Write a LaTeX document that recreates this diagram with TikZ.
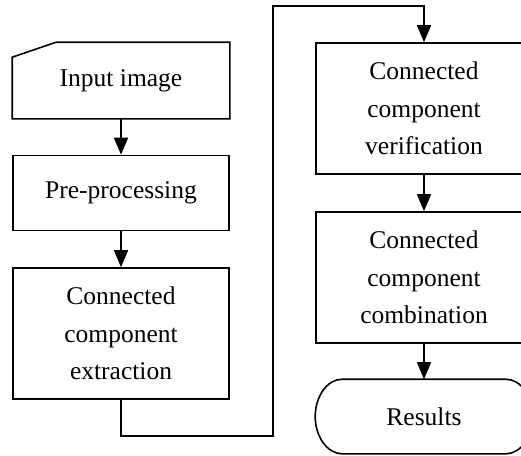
\documentclass[tikz,border=0pt]{standalone}
\usepackage{fontspec}
\setmainfont{Liberation Serif}
\usetikzlibrary{arrows.meta,calc}
\begin{document}
\begin{tikzpicture}[x=1pt,y=-1pt,
  line width=1.6pt,
  every node/.style={font=\fontsize{25.5}{37.5}\selectfont, align=center, inner sep=0pt},
  procbox/.style={draw, rectangle, minimum width=216, minimum height=75},
  tallbox/.style={procbox, minimum height=131},
  flow/.style={-{Triangle[length=17pt,width=14pt]}}
]
\useasboundingbox (0,0) rectangle (521,455);
\clip (0,0) rectangle (521,455);

% input with a clipped top-left corner
\node[minimum width=216, minimum height=75] (in) at (121,80.5) {Input image};
\draw ($(in.north west)+(0,15)$) -- ($(in.north west)+(44,0)$) -- (in.north east)
  -- (in.south east) -- (in.south west) -- cycle;

\node[procbox] (pre) at (121,193) {Pre-processing};
\node[tallbox] (ext) at (121,333.5) {Connected\\component\\extraction};
\node[tallbox] (ver) at (424,108.5) {Connected\\component\\verification};
\node[tallbox] (com) at (424,277.5) {Connected\\component\\combination};

% terminal with elliptical ends
\node[minimum width=216, minimum height=73] (res) at (424,416.5) {Results};
\draw ($(res.north west)+(27,0)$) -- ($(res.north east)+(-27,0)$)
  .. controls +(15,0) and +(0,-20) .. (res.east)
  .. controls +(0,20) and +(15,0) .. ($(res.south east)+(-27,0)$)
  -- ($(res.south west)+(27,0)$)
  .. controls +(-15,0) and +(0,20) .. (res.west)
  .. controls +(0,-20) and +(-15,0) .. cycle;

% routing points of the loop between the columns
\coordinate (c1) at (273,436);
\coordinate (c2) at (273,6);

\draw[flow] (in) -- (pre);
\draw[flow] (pre) -- (ext);
\draw[flow] (ext.south) |- (c1) -- (c2) -| (ver.north);
\draw[flow] (ver) -- (com);
\draw[flow] (com) -- (res);
\end{tikzpicture}
\end{document}
